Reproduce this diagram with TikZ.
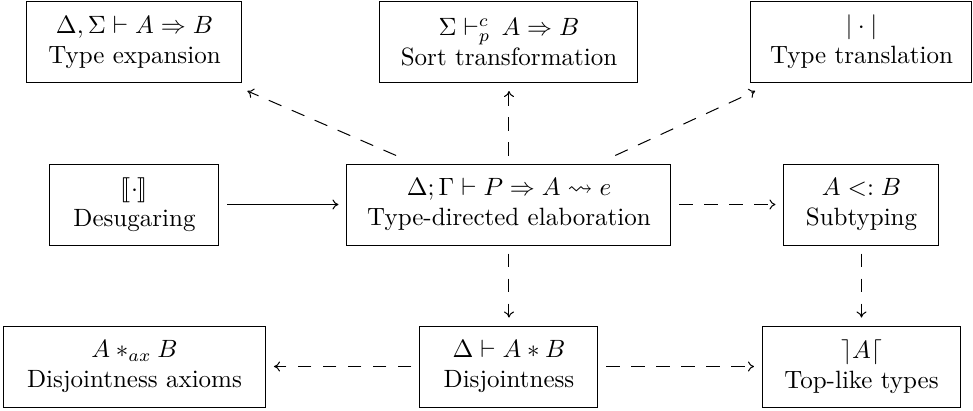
\documentclass[tikz,border=0pt]{standalone}
\usepackage{amsmath,amssymb}
\usepackage{stmaryrd}
\usetikzlibrary{arrows.meta,positioning}

\begin{document}
\begin{tikzpicture}[->,>={To[length=2.4pt,width=4pt]},auto,on grid,
	rule node/.style={rectangle,draw,align=center,inner xsep=6pt,
		minimum height=32.4pt,outer sep=3.4pt},
	dep/.style={dash pattern=on 5.5pt off 4.5pt}]

	\useasboundingbox (-203.6pt,-82.2pt) rectangle (185.6pt,81.8pt);

	\node[rule node,minimum width=129.6pt] (E) {$\Delta;\Gamma\vdash P\Rightarrow A\leadsto e$\\Type-directed elaboration};
	\node[rule node,minimum width=103.2pt] (S) [above=65pt of E] {$\Sigma\vdash^{c}_{p}\, A\Rightarrow B$\\Sort transformation};
	\node[rule node,minimum width=86pt] (X) [left=149.8pt of S] {$\Delta,\Sigma\vdash A\Rightarrow B$\\Type expansion};
	\node[rule node,minimum width=88.4pt] (T) [right=141pt of S] {$|\cdot|$\\Type translation};
	\node[rule node,minimum width=67.6pt] (D) [left=149.8pt of E] {$\llbracket\cdot\rrbracket$\\Desugaring};
	\node[rule node,minimum width=62pt] (U) [right=141pt of E] {$A <: B$\\Subtyping};
	\node[rule node,minimum width=71.2pt] (J) [below=64.8pt of E] {$\Delta\vdash A \ast B$\\Disjointness};
	\node[rule node,minimum width=104.8pt] (A) [left=149.8pt of J] {$A \ast_{ax} B$\\Disjointness axioms};
	\node[rule node,minimum width=79.2pt] (L) [right=141pt of J] {$\rceil A\lceil$\\Top-like types};

	\path (D) edge (E);

	\path[dep]
	(E) edge (X)
	(E) edge (S)
	(E) edge (T)
	(E) edge (U)
	(E) edge (J)
	(U) edge (L)
	(J) edge (A)
	(J) edge (L);

\end{tikzpicture}
\end{document}
